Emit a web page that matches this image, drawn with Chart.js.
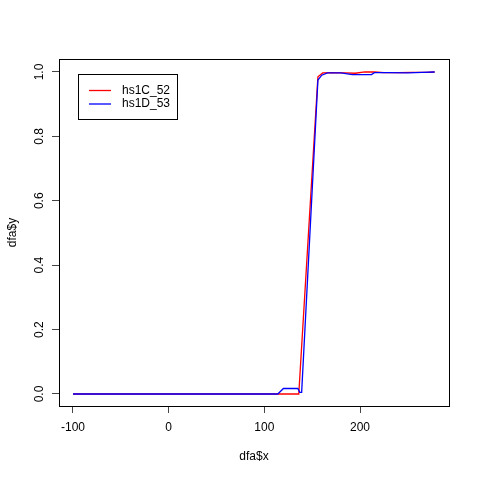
<!DOCTYPE html>
<html>
<head>
<meta charset="utf-8">
<script src="https://cdn.jsdelivr.net/npm/chart.js@4"></script>
<style>
  html, body { margin: 0; padding: 0; background: #fff; }
  #wrap { width: 480px; height: 480px; }
</style>
</head>
<body>
<div id="wrap"><canvas id="dfaChart" width="480" height="480"></canvas></div>
<script>
// data
var seriesNames = ['hs1C_52', 'hs1D_53'];
var seriesColors = ['#ff0000', '#0000ff'];

var redX = [-100, 136, 156, 161, 170, 185, 195, 205, 215, 225, 240, 255, 270, 278];
var redY = [0, 0, 0.985, 0.997, 0.998, 0.997, 0.996, 1.0, 1.0, 0.998, 0.998, 0.999, 0.999, 1.0];

var blueX = [-100, 114, 120, 135, 137, 139, 156, 160, 166, 180, 192, 212, 215, 230, 250, 265, 278];
var blueY = [0, 0, 0.017, 0.017, 0.005, 0.005, 0.975, 0.99, 0.997, 0.997, 0.992, 0.992, 0.998, 0.998, 0.997, 0.999, 1.0];

var xTicks = [-100, 0, 100, 200];
var yTicks = [0, 0.2, 0.4, 0.6, 0.8, 1.0];

function toPoints(xs, ys) {
    return xs.map(function (x, i) { return { x: x, y: ys[i] }; });
}

Chart.defaults.font.family = '"Liberation Sans", Arial, Helvetica, sans-serif';
Chart.defaults.font.size = 12;
Chart.defaults.color = '#000';

// R style frame around the plot region
var boxPlugin = {
    id: 'boxPlugin',
    afterDraw: function (chart) {
        var a = chart.chartArea;
        var ctx = chart.ctx;
        ctx.save();
        ctx.strokeStyle = '#000';
        ctx.lineWidth = 1;
        ctx.strokeRect(Math.round(a.left) + 0.5, Math.round(a.top) + 0.5,
            Math.round(a.right - a.left), Math.round(a.bottom - a.top));
        ctx.restore();
    }
};

// legend box in the top left corner, like R's legend("topleft")
var legendPlugin = {
    id: 'legendPlugin',
    afterDraw: function (chart) {
        var ctx = chart.ctx;
        var a = chart.chartArea;
        var left = a.left + 19, top = a.top + 15, w = 99, h = 45;
        ctx.save();
        ctx.fillStyle = '#fff';
        ctx.fillRect(left, top, w, h);
        ctx.strokeStyle = '#000';
        ctx.lineWidth = 1;
        ctx.strokeRect(left + 0.5, top + 0.5, w, h);
        ctx.font = '12px "Liberation Sans", Arial, sans-serif';
        ctx.textBaseline = 'middle';
        ctx.textAlign = 'left';
        chart.data.datasets.forEach(function (ds, i) {
            var y = top + 16.5 + i * 13.5;
            ctx.strokeStyle = seriesColors[i];
            ctx.lineWidth = 1.3;
            ctx.beginPath();
            ctx.moveTo(left + 11, y);
            ctx.lineTo(left + 33, y);
            ctx.stroke();
            ctx.fillStyle = '#000';
            ctx.fillText(ds.label, left + 44, y);
        });
        ctx.restore();
    }
};

var ctx = document.getElementById('dfaChart').getContext('2d');
var dfaChart = new Chart(ctx, {
    type: 'scatter',
    data: {
        datasets: [{
            label: seriesNames[0],
            data: toPoints(redX, redY),
            borderColor: seriesColors[0],
            backgroundColor: seriesColors[0],
            showLine: true,
            borderWidth: 1.3,
            pointRadius: 0,
            tension: 0,
            order: 1
        }, {
            label: seriesNames[1],
            data: toPoints(blueX, blueY),
            borderColor: seriesColors[1],
            backgroundColor: seriesColors[1],
            showLine: true,
            borderWidth: 1.3,
            pointRadius: 0,
            tension: 0,
            order: 0
        }]
    },
    options: {
        responsive: false,
        animation: false,
        devicePixelRatio: 1,
        layout: { padding: { left: 0, top: 59, right: 31, bottom: 0 } },
        plugins: {
            legend: { display: false },
            tooltip: { enabled: false }
        },
        scales: {
            x: {
                type: 'linear',
                min: -114.6,
                max: 293,
                afterFit: function (scale) { scale.height = 74; },
                afterBuildTicks: function (scale) {
                    scale.ticks = xTicks.map(function (v) { return { value: v }; });
                },
                ticks: {
                    padding: 7,
                    maxRotation: 0,
                    autoSkip: false,
                    callback: function (v) { return String(v); }
                },
                grid: { drawOnChartArea: false, drawTicks: true, tickLength: 7, color: '#444' },
                border: { display: false },
                title: { display: true, text: 'dfa$x', padding: { top: 0, bottom: 16 } }
            },
            y: {
                type: 'linear',
                min: -0.0373,
                max: 1.0403,
                afterFit: function (scale) { scale.width = 59; },
                afterBuildTicks: function (scale) {
                    scale.ticks = yTicks.map(function (v) { return { value: v }; });
                },
                ticks: {
                    padding: 4,
                    minRotation: 90,
                    maxRotation: 90,
                    crossAlign: 'center',
                    autoSkip: false,
                    callback: function (v) { return v.toFixed(1); }
                },
                grid: { drawOnChartArea: false, drawTicks: true, tickLength: 7, color: '#444' },
                border: { display: false },
                title: { display: true, text: 'dfa$y', padding: { top: 5, bottom: 0 } }
            }
        }
    },
    plugins: [boxPlugin, legendPlugin]
});
</script>
</body>
</html>
